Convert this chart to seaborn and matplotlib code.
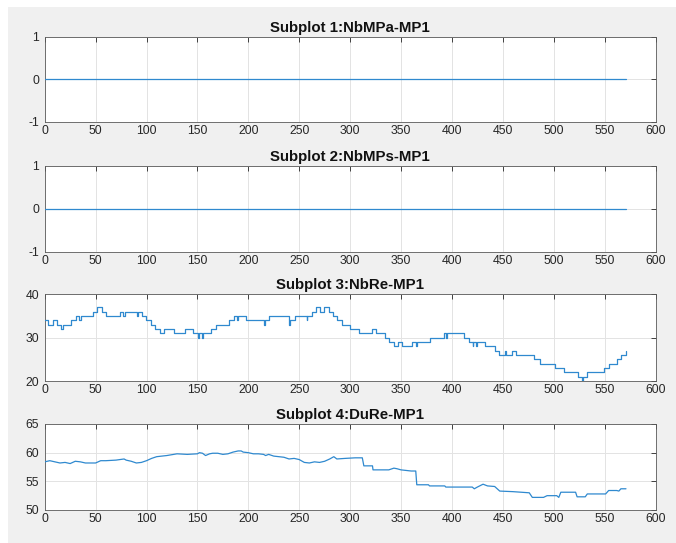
import numpy as np
import pandas as pd
import matplotlib
matplotlib.use("Agg")
import matplotlib.pyplot as plt
import seaborn as sns
from matplotlib.patches import Rectangle

# ---------------- data ----------------
titles = ["Subplot 1:NbMPa-MP1", "Subplot 2:NbMPs-MP1",
          "Subplot 3:NbRe-MP1", "Subplot 4:DuRe-MP1"]

nbmpa_x = [0, 571]
nbmpa_y = [0, 0]

nbmps_x = [0, 571]
nbmps_y = [0, 0]

# NbRe: step changes (start sample, value)
nbre_x = [0, 3.6, 7.9, 11.8, 16.2, 17.7, 25.6, 30.8, 34, 35.4, 47.9, 51.8, 56, 60.3,
          74.1, 76.7, 78.4, 90.5, 92, 95.4, 99.7, 104.3, 108.5, 112.8, 117.4, 126.6,
          138, 146, 150.3, 151.5, 154.2, 155.5, 163, 168.4, 181.5, 186, 188.7, 190.3,
          198, 215, 216, 220, 240.2, 241.3, 246.2, 257.3, 258, 262.5, 266.8, 270.7,
          274.7, 279, 283, 287, 292, 300, 309, 322, 325.5, 334, 338.7, 343, 347.5,
          351, 360.7, 364.7, 365.5, 378.7, 392, 394, 395, 412, 416.4, 420.3, 421,
          423.8, 424.6, 433, 442.6, 446.5, 451.8, 453.4, 459, 462.5, 480.5, 486.4,
          501.6, 510.6, 523.8, 527.5, 528.5, 533, 549.3, 554, 562.5, 566.4, 570.6, 571]
nbre_y = [34, 33, 34, 33, 32, 33, 34, 35, 34, 35, 36, 37, 36, 35,
          36, 35, 36, 35, 36, 35, 34, 33, 32, 31, 32, 31,
          32, 31, 30, 31, 30, 31, 32, 33, 34, 35, 34, 35,
          34, 33, 34, 35, 33, 34, 35, 34, 35, 36, 37, 36,
          37, 36, 35, 34, 33, 32, 31, 32, 31, 30, 29, 28, 29,
          28, 29, 28, 29, 30, 31, 30, 31, 30, 29, 28, 29,
          28, 29, 28, 27, 26, 27, 26, 27, 26, 25, 24,
          23, 22, 21, 20, 21, 22, 23, 24, 25, 26, 27, 27]

dure_x = [0, 5, 10, 15, 20, 25, 30, 35, 40, 50, 55, 60, 70, 78, 80, 85, 90, 95, 100,
          105, 110, 120, 130, 140, 150, 152, 155, 158, 162, 165, 170, 175, 180, 185,
          190, 193, 195, 200, 205, 210, 215, 217, 220, 225, 230, 235, 240, 245, 250,
          255, 260, 265, 270, 275, 280, 284, 287, 295, 305, 312, 313.5, 322, 322.5,
          338, 343, 346, 350, 360, 364.5, 365.5, 377, 378, 393, 394, 420, 422, 425,
          430.6, 435, 442, 447, 460, 476, 479, 490, 493.5, 503, 505, 507, 521.5, 523,
          531, 533, 551, 554, 562, 564, 566, 571]
dure_y = [58.4, 58.6, 58.4, 58.2, 58.3, 58.1, 58.5, 58.4, 58.2, 58.2, 58.6, 58.6, 58.7,
          58.9, 58.7, 58.5, 58.2, 58.3, 58.6, 59.0, 59.3, 59.5, 59.8, 59.7, 59.8, 60.0,
          59.9, 59.5, 59.8, 59.9, 59.9, 59.7, 59.8, 60.1, 60.3, 60.3, 60.1, 60.0, 59.8,
          59.8, 59.7, 59.5, 59.7, 59.4, 59.3, 59.2, 58.9, 59.0, 58.8, 58.3, 58.2, 58.4,
          58.3, 58.5, 58.9, 59.3, 58.9, 59.0, 59.1, 59.1, 57.7, 57.7, 57.0, 57.0, 57.3,
          57.2, 57.0, 56.8, 56.8, 54.4, 54.4, 54.2, 54.2, 54.0, 54.0, 53.7, 54.0, 54.5,
          54.2, 54.1, 53.3, 53.2, 53.0, 52.2, 52.2, 52.5, 52.5, 52.2, 53.1, 53.1, 52.3,
          52.3, 52.8, 52.8, 53.4, 53.4, 53.3, 53.7, 53.7]

xticks = list(range(0, 601, 50))
yticks_list = [[-1, 0, 1], [-1, 0, 1], [20, 30, 40], [50, 55, 60, 65]]
ylims = [(-1, 1), (-1, 1), (20, 40), (50, 65)]

# ---------------- style ----------------
sns.set_style("white")
plt.rcParams['font.family'] = ['Liberation Sans', 'DejaVu Sans']
plt.rcParams['axes.unicode_minus'] = False

fig = plt.figure(figsize=(6.76, 5.43), dpi=100)
fig.patch.set_facecolor("white")
fig.patches.append(Rectangle((8 / 676, 0), 1 - 8 / 676, 1 - 7 / 543,
                             transform=fig.transFigure, facecolor="#f0f0f0",
                             edgecolor="none", zorder=-10))

left, width = 44.7 / 676, (655.5 - 44.7) / 676
rects = [(36.7, 122), (165.7, 252), (294.3, 381), (424, 510)]

series = [(nbmpa_x, nbmpa_y, None), (nbmps_x, nbmps_y, None),
          (nbre_x, nbre_y, "steps-post"), (dure_x, dure_y, None)]

line_color = "#2f89cf"

for i, ((top, bot), (sx, sy, ds)) in enumerate(zip(rects, series)):
    ax = fig.add_axes([left, 1 - bot / 543, width, (bot - top) / 543])
    ax.set_facecolor("white")
    df = pd.DataFrame({"x": sx, "y": sy})
    kw = {}
    if ds:
        kw["drawstyle"] = ds
    sns.lineplot(data=df, x="x", y="y", ax=ax, color=line_color, linewidth=0.9,
                 sort=False, zorder=5, **kw)
    ax.set_xlim(0, 600)
    ax.set_ylim(*ylims[i])
    ax.set_xticks(xticks)
    ax.set_yticks(yticks_list[i])
    ax.set_xlabel("")
    ax.set_ylabel("")
    ax.grid(True, color="#e3e3e3", linewidth=0.7, zorder=0)
    ax.set_axisbelow(True)
    ax.tick_params(direction="in", top=True, right=True, length=3.5, width=0.6,
                   colors="#262626", labelsize=8.8)
    ax.tick_params(axis="x", pad=2)
    ax.tick_params(axis="y", pad=4)
    for sp in ax.spines.values():
        sp.set_color("#5a5a5a")
        sp.set_linewidth(0.6)
    ax.set_title(titles[i], fontsize=10.8, fontweight="bold", color="#111111", pad=3.5)

fig.savefig("out.png", dpi=100, facecolor=fig.get_facecolor())
